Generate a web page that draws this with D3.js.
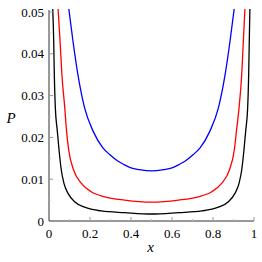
<!DOCTYPE html>
<html>
<head>
<meta charset="UTF-8" />
<style>
  body { margin: 0; padding: 0; background: #fff; }
  svg { display: block; }
</style>
</head>
<body>
<svg id="chart" width="262" height="262"></svg>
<script src="https://d3js.org/d3.v7.min.js"></script>
<script>
  // values
  const blackX = [0.018, 0.023, 0.026, 0.031, 0.040, 0.049, 0.060, 0.073, 0.093, 0.125, 0.174, 0.255, 0.369, 0.5, 0.631, 0.745, 0.826, 0.875, 0.907, 0.927, 0.940, 0.951, 0.960, 0.969, 0.974, 0.977, 0.980];
  const blackY = [0.051, 0.043, 0.035, 0.027, 0.0218, 0.0170, 0.0122, 0.0090, 0.0066, 0.0046, 0.0033, 0.0024, 0.0020, 0.00167, 0.0020, 0.0024, 0.0033, 0.0046, 0.0066, 0.0090, 0.0122, 0.0170, 0.0218, 0.027, 0.035, 0.043, 0.051];
  const redX = [0.044, 0.054, 0.063, 0.077, 0.085, 0.096, 0.120, 0.158, 0.206, 0.272, 0.369, 0.5, 0.631, 0.728, 0.794, 0.842, 0.880, 0.904, 0.915, 0.927, 0.940, 0.948, 0.956];
  const redY = [0.051, 0.043, 0.035, 0.027, 0.0218, 0.0170, 0.0122, 0.0090, 0.0070, 0.0058, 0.0050, 0.0045, 0.0050, 0.0058, 0.0070, 0.0090, 0.0122, 0.0170, 0.0218, 0.027, 0.035, 0.043, 0.051];
  const blueX = [0.096, 0.117, 0.141, 0.174, 0.215, 0.263, 0.296, 0.337, 0.366, 0.40, 0.44, 0.5, 0.56, 0.60, 0.634, 0.663, 0.704, 0.737, 0.785, 0.826, 0.859, 0.883, 0.904];
  const blueY = [0.051, 0.043, 0.035, 0.027, 0.0215, 0.0175, 0.0159, 0.0143, 0.0135, 0.0127, 0.0123, 0.0120, 0.0123, 0.0127, 0.0135, 0.0143, 0.0159, 0.0175, 0.0215, 0.027, 0.035, 0.043, 0.051];

  const xTicks = [0, 0.2, 0.4, 0.6, 0.8, 1];
  const xTickLabels = ["0", "0.2", "0.4", "0.6", "0.8", "1"];
  const yTicks = [0, 0.01, 0.02, 0.03, 0.04, 0.05];
  const yTickLabels = ["0", "0.01", "0.02", "0.03", "0.04", "0.05"];
  const xMinor = [0.1, 0.3, 0.5, 0.7, 0.9];
  const yMinor = [0.005, 0.015, 0.025, 0.035, 0.045];

  const series = [
    { xs: blackX, ys: blackY, color: "#000000" },
    { xs: redX, ys: redY, color: "#ff0000" },
    { xs: blueX, ys: blueY, color: "#0000ff" }
  ];

  const serif = "'Liberation Serif', 'Times New Roman', Times, 'DejaVu Serif', serif";
  const mLeft = 49, mRight = 254, mTop = 12, mBottom = 221;
  const svg = d3.select("#chart");

  const x = d3.scaleLinear().domain([0, 1]).range([mLeft, mRight]);
  const y = d3.scaleLinear().domain([0, 0.05]).range([mBottom, mTop]);

  svg.append("clipPath").attr("id", "clip")
    .append("rect")
    .attr("x", mLeft).attr("y", 9)
    .attr("width", mRight - mLeft).attr("height", mBottom - 9);

  const line = d3.line()
    .x(d => x(d[0]))
    .y(d => y(d[1]))
    .curve(d3.curveMonotoneX);

  svg.append("g").attr("clip-path", "url(#clip)")
    .selectAll("path")
    .data(series)
    .enter().append("path")
    .attr("d", s => line(s.xs.map((v, i) => [v, s.ys[i]])))
    .attr("fill", "none")
    .attr("stroke", s => s.color)
    .attr("stroke-width", 1.3);

  // axes lines
  svg.append("line")
    .attr("x1", mLeft).attr("x2", mRight)
    .attr("y1", mBottom).attr("y2", mBottom)
    .attr("stroke", "#333").attr("stroke-width", 1);
  svg.append("line")
    .attr("x1", mLeft).attr("x2", mLeft)
    .attr("y1", 10).attr("y2", mBottom)
    .attr("stroke", "#333").attr("stroke-width", 1);

  // ticks (inward)
  svg.append("g").selectAll("line")
    .data(xTicks.slice(1))
    .enter().append("line")
    .attr("x1", d => x(d)).attr("x2", d => x(d))
    .attr("y1", mBottom).attr("y2", mBottom - 4)
    .attr("stroke", "#999");
  svg.append("g").selectAll("line")
    .data(xMinor)
    .enter().append("line")
    .attr("x1", d => x(d)).attr("x2", d => x(d))
    .attr("y1", mBottom).attr("y2", mBottom - 2)
    .attr("stroke", "#bbb");
  svg.append("g").selectAll("line")
    .data(yTicks.slice(1))
    .enter().append("line")
    .attr("x1", mLeft).attr("x2", mLeft + 4)
    .attr("y1", d => y(d)).attr("y2", d => y(d))
    .attr("stroke", "#999");
  svg.append("g").selectAll("line")
    .data(yMinor)
    .enter().append("line")
    .attr("x1", mLeft).attr("x2", mLeft + 2)
    .attr("y1", d => y(d)).attr("y2", d => y(d))
    .attr("stroke", "#bbb");

  // tick labels
  svg.append("g").selectAll("text")
    .data(xTicks)
    .enter().append("text")
    .attr("x", d => x(d))
    .attr("y", mBottom + 17)
    .attr("text-anchor", "middle")
    .attr("font-family", serif)
    .attr("font-size", 13)
    .text((d, i) => xTickLabels[i]);
  svg.append("g").selectAll("text")
    .data(yTicks)
    .enter().append("text")
    .attr("x", mLeft - 5)
    .attr("y", d => y(d) + 4.5)
    .attr("text-anchor", "end")
    .attr("font-family", serif)
    .attr("font-size", 13)
    .text((d, i) => yTickLabels[i]);

  // axis titles
  svg.append("text")
    .attr("x", (mLeft + mRight) / 2 - 1)
    .attr("y", 252)
    .attr("text-anchor", "middle")
    .attr("font-family", serif)
    .attr("font-size", 15)
    .attr("font-style", "italic")
    .text("x");
  svg.append("text")
    .attr("x", 11)
    .attr("y", 123)
    .attr("text-anchor", "middle")
    .attr("font-family", serif)
    .attr("font-size", 15)
    .attr("font-style", "italic")
    .text("P");
</script>
</body>
</html>
